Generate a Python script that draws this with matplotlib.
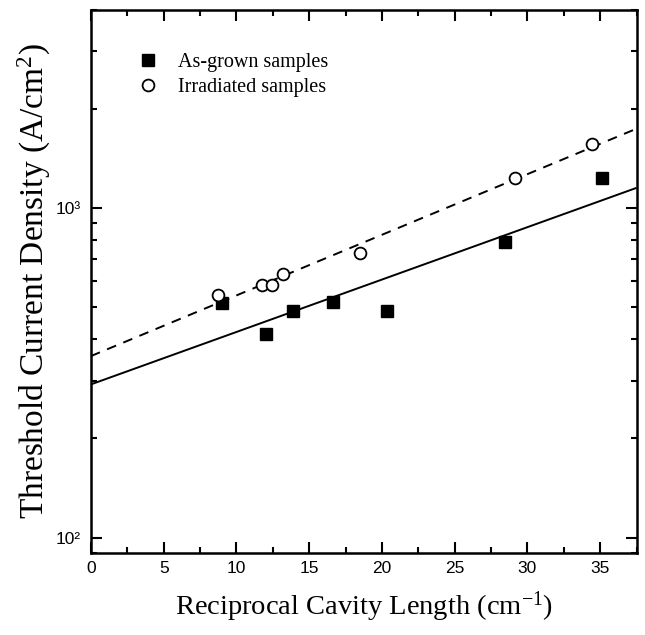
import numpy as np
import matplotlib
matplotlib.use("Agg")
import matplotlib.pyplot as plt
from matplotlib.ticker import MultipleLocator, LogLocator, FixedLocator, FixedFormatter, NullFormatter

# Data
as_grown_x = [8.99, 12.04, 13.91, 16.66, 20.38, 28.45, 35.1]
as_grown_y = [516, 415, 489, 520, 489, 791, 1233]
irradiated_x = [8.76, 11.74, 12.43, 13.23, 18.5, 29.15, 34.4]
irradiated_y = [545, 585, 585, 631, 732, 1233, 1563]

labels_series = ["As-grown samples", "Irradiated samples"]
xlabel = r"Reciprocal Cavity Length (cm$^{\mathregular{-1}}$)"
ylabel = r"Threshold Current Density (A/cm$^{\mathregular{2}}$)"
x_ticks = [0, 5, 10, 15, 20, 25, 30, 35]
y_ticks = [100, 1000]
y_tick_labels = ["10\u00b2", "10\u00b3"]

plt.rcParams['font.family'] = ['Liberation Sans', 'DejaVu Sans']
plt.rcParams['mathtext.fontset'] = 'custom'
plt.rcParams['mathtext.rm'] = 'Liberation Serif'
plt.rcParams['mathtext.it'] = 'Liberation Serif:italic'

fig = plt.figure(figsize=(6.45, 6.35), dpi=100)
ax = fig.add_axes([0.141, 0.1296, 0.846, 0.8546])

xmin, xmax = 0, 37.5
ax.set_xlim(xmin, xmax)
ax.set_ylim(90, 4000)
ax.set_yscale('log')

# exponential fits (linear in log space)
xx = np.linspace(xmin, xmax, 200)
p1 = np.polyfit(as_grown_x, np.log10(as_grown_y), 1)
p2 = np.polyfit(irradiated_x, np.log10(irradiated_y), 1)
ax.plot(xx, 10 ** np.polyval(p1, xx), color='black', lw=1.4, solid_capstyle='butt')
ax.plot(xx, 10 ** np.polyval(p2, xx), color='black', lw=1.4, ls=(0, (5, 4)))

ax.plot(as_grown_x, as_grown_y, 's', color='black', ms=9, label=labels_series[0], zorder=3)
ax.plot(irradiated_x, irradiated_y, 'o', mfc='white', mec='black', mew=1.3, ms=8.5,
        label=labels_series[1], zorder=3)

ax.xaxis.set_major_locator(FixedLocator(x_ticks))
ax.xaxis.set_minor_locator(MultipleLocator(2.5))
ax.yaxis.set_major_locator(FixedLocator(y_ticks))
ax.yaxis.set_major_formatter(FixedFormatter(y_tick_labels))
ax.yaxis.set_minor_locator(LogLocator(base=10, subs=np.arange(2, 10)))
ax.yaxis.set_minor_formatter(NullFormatter())

ax.tick_params(which='both', direction='in', top=True, right=True, width=1.5, labelsize=12.5)
ax.tick_params(which='major', length=8)
ax.tick_params(axis='x', which='major', pad=6)
ax.tick_params(axis='y', which='major', pad=7)
ax.tick_params(which='minor', length=4)
for s in ax.spines.values():
    s.set_linewidth(1.8)

ax.set_xlabel(xlabel, fontsize=20.5, family='Liberation Serif', labelpad=10)
ax.set_ylabel(ylabel, fontsize=24, family='Liberation Serif', labelpad=2)

leg = ax.legend(loc='upper left', bbox_to_anchor=(0.067, 0.935), frameon=False,
                prop={'family': 'Liberation Serif', 'size': 14.5}, handletextpad=0.9,
                labelspacing=0.25, handlelength=1.2, borderaxespad=0)

fig.savefig("out.png", dpi=100)
